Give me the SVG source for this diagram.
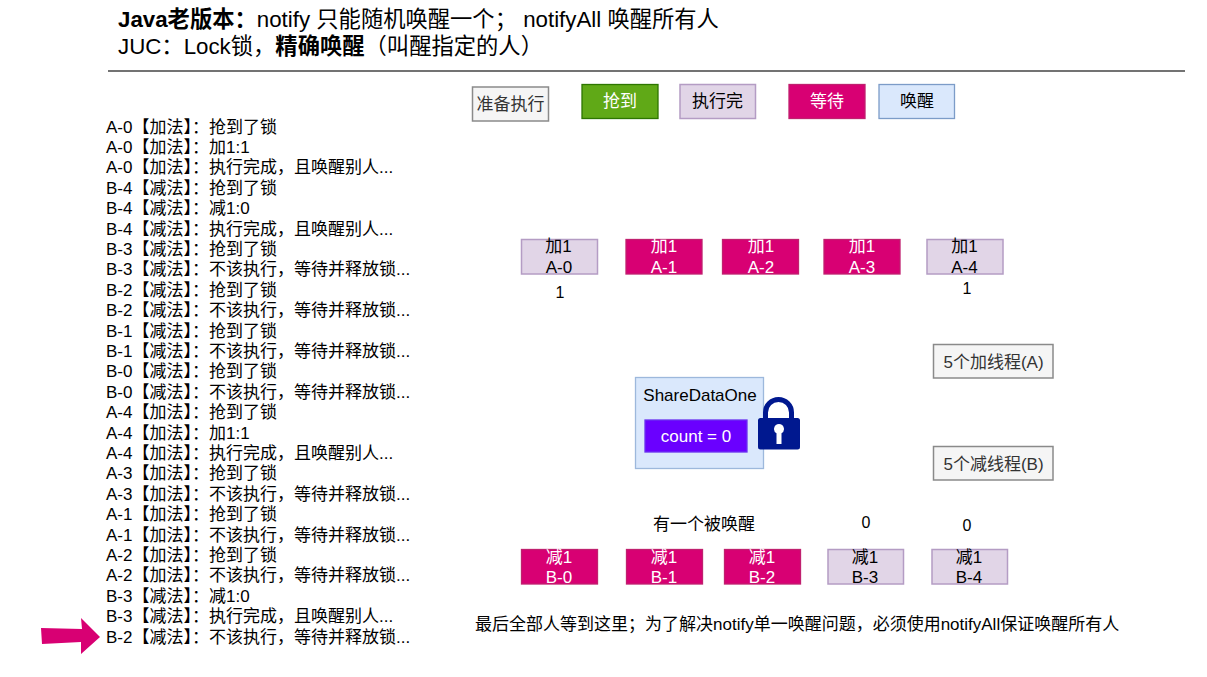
<svg xmlns="http://www.w3.org/2000/svg" width="1207" height="677" viewBox="0 0 1207 677">
<defs><style>
text{font-family:"Liberation Sans","Noto Sans CJK SC",sans-serif;font-size:17px;fill:#000}
.c{text-anchor:middle}
.w{fill:#fff}
.g{fill:#333}
.t{font-size:22.300px}
.b{font-weight:bold}
.n{font-size:16px}
rect{stroke-width:1.3}
.gray{fill:#f5f5f5;stroke:#8a8a8a;stroke-width:1.5}
.green{fill:#60a917;stroke:#2d7600}
.purple{fill:#e1d5e7;stroke:#b49cc4;stroke-width:1.5}
.pink{fill:#d80073;stroke:#c0206f}
.blue{fill:#dae8fc;stroke:#7c9cc8}
</style></defs>
<rect width="1207" height="677" fill="#fff" style="stroke:none"/>
<g id="title">
<text class="t" x="118" y="27"><tspan class="b">Java老版本：</tspan>notify 只能随机唤醒一个； notifyAll 唤醒所有人</text>
<text class="t" x="118" y="54">JUC：Lock锁，<tspan class="b">精确唤醒</tspan>（叫醒指定的人）</text>
<line x1="108" y1="71" x2="1185" y2="71" stroke="#444" stroke-width="1.3"/>
</g>
<g id="log">
<text x="106" y="133">A-0【加法】：抢到了锁</text>
<text x="106" y="153">A-0【加法】：加1:1</text>
<text x="106" y="173">A-0【加法】：执行完成，且唤醒别人...</text>
<text x="106" y="194">B-4【减法】：抢到了锁</text>
<text x="106" y="214">B-4【减法】：减1:0</text>
<text x="106" y="235">B-4【减法】：执行完成，且唤醒别人...</text>
<text x="106" y="255">B-3【减法】：抢到了锁</text>
<text x="106" y="275">B-3【减法】：不该执行，等待并释放锁...</text>
<text x="106" y="296">B-2【减法】：抢到了锁</text>
<text x="106" y="316">B-2【减法】：不该执行，等待并释放锁...</text>
<text x="106" y="337">B-1【减法】：抢到了锁</text>
<text x="106" y="357">B-1【减法】：不该执行，等待并释放锁...</text>
<text x="106" y="377">B-0【减法】：抢到了锁</text>
<text x="106" y="398">B-0【减法】：不该执行，等待并释放锁...</text>
<text x="106" y="418">A-4【加法】：抢到了锁</text>
<text x="106" y="439">A-4【加法】：加1:1</text>
<text x="106" y="459">A-4【加法】：执行完成，且唤醒别人...</text>
<text x="106" y="479">A-3【加法】：抢到了锁</text>
<text x="106" y="500">A-3【加法】：不该执行，等待并释放锁...</text>
<text x="106" y="520">A-1【加法】：抢到了锁</text>
<text x="106" y="541">A-1【加法】：不该执行，等待并释放锁...</text>
<text x="106" y="561">A-2【加法】：抢到了锁</text>
<text x="106" y="581">A-2【加法】：不该执行，等待并释放锁...</text>
<text x="106" y="602">B-3【减法】：减1:0</text>
<text x="106" y="622">B-3【减法】：执行完成，且唤醒别人...</text>
<text x="106" y="643">B-2【减法】：不该执行，等待并释放锁...</text>
</g>
<g id="pointer"><polygon points="41,628 82,629 81,618 100,637 81,654 81,642 42,644" fill="#d80073"/></g>
<g id="legend-ready"><rect class="gray" x="472.500" y="87" width="76" height="34"/><text class="c g" x="510.500" y="110">准备执行</text></g>
<g id="legend-got"><rect class="green" x="582" y="84.500" width="76" height="34"/><text class="c w" x="620" y="107">抢到</text></g>
<g id="legend-done"><rect class="purple" x="680" y="84.500" width="75.500" height="34"/><text class="c" x="717.500" y="107">执行完</text></g>
<g id="legend-wait"><rect class="pink" x="789" y="84.500" width="76" height="34"/><text class="c w" x="827" y="107">等待</text></g>
<g id="legend-wake"><rect class="blue" x="879" y="84.500" width="75.500" height="34"/><text class="c" x="917" y="107">唤醒</text></g>
<g id="a0"><rect class="purple" x="521.500" y="239.500" width="76" height="34.500"/><text class="c" x="558.500" y="252">加1</text><text class="c" x="559" y="273">A-0</text></g>
<g id="a1"><rect class="pink" x="626" y="239.500" width="76" height="34.500"/><text class="c w" x="664" y="252">加1</text><text class="c w" x="664" y="273">A-1</text></g>
<g id="a2"><rect class="pink" x="722.500" y="239.500" width="76" height="34.500"/><text class="c w" x="761" y="252">加1</text><text class="c w" x="761" y="273">A-2</text></g>
<g id="a3"><rect class="pink" x="824" y="239.500" width="76" height="34.500"/><text class="c w" x="862" y="252">加1</text><text class="c w" x="862" y="273">A-3</text></g>
<g id="a4"><rect class="purple" x="927" y="239.500" width="76" height="34.500"/><text class="c" x="964.500" y="252">加1</text><text class="c" x="964.500" y="273">A-4</text></g>
<text class="c n" x="560" y="298">1</text>
<text class="c n" x="967" y="294">1</text>
<g id="add-threads"><rect class="gray" x="933.500" y="344.500" width="119.500" height="33.500"/><text class="c g" x="993.500" y="368">5个加线程(A)</text></g>
<g id="sub-threads"><rect class="gray" x="933.500" y="446.500" width="119.500" height="33.500"/><text class="c g" x="993.500" y="470">5个减线程(B)</text></g>
<g id="share">
<rect x="635.500" y="377.500" width="128" height="91" fill="#dae8fc" stroke="#9db8dc" stroke-width="1.500"/>
<text class="c" x="700" y="401">ShareDataOne</text>
<rect x="645" y="420" width="102" height="32" fill="#6a00ff" stroke="#6a30f0" stroke-width="0.800"/>
<text class="c w" x="696" y="442">count = 0</text>
</g>
<g id="lock">
<path fill="#00188f" fill-rule="evenodd" d="M763 418V412.500A15.500 15.500 0 0 1 794 412.500V418H797.500Q800 418 800 420.500V447Q800 449.500 797.500 449.500H760.500Q758 449.500 758 447V420.500Q758 418 760.500 418ZM768 418H789V412.500A10.500 10.500 0 0 0 768 412.500ZM779 424A5 5 0 0 0 776.500 433.300V444H781.500V433.300A5 5 0 0 0 779 424Z"/>
</g>
<text class="c" x="704" y="530">有一个被唤醒</text>
<text class="c n" x="866" y="528">0</text>
<text class="c n" x="967" y="531">0</text>
<g id="b0"><rect class="pink" x="521.500" y="549.500" width="76" height="34.500"/><text class="c w" x="559" y="563">减1</text><text class="c w" x="559" y="583">B-0</text></g>
<g id="b1"><rect class="pink" x="626.500" y="549.500" width="76" height="34.500"/><text class="c w" x="664" y="563">减1</text><text class="c w" x="664" y="583">B-1</text></g>
<g id="b2"><rect class="pink" x="724.500" y="549.500" width="76" height="34.500"/><text class="c w" x="762" y="563">减1</text><text class="c w" x="762" y="583">B-2</text></g>
<g id="b3"><rect class="purple" x="828" y="549.500" width="75.500" height="34.500"/><text class="c" x="865" y="563">减1</text><text class="c" x="865" y="583">B-3</text></g>
<g id="b4"><rect class="purple" x="932" y="549.500" width="75.500" height="34.500"/><text class="c" x="969" y="563">减1</text><text class="c" x="969" y="583">B-4</text></g>
<text x="475" y="630">最后全部人等到这里；为了解决notify单一唤醒问题，必须使用notifyAll保证唤醒所有人</text>
<g id="connectors"/>
</svg>
